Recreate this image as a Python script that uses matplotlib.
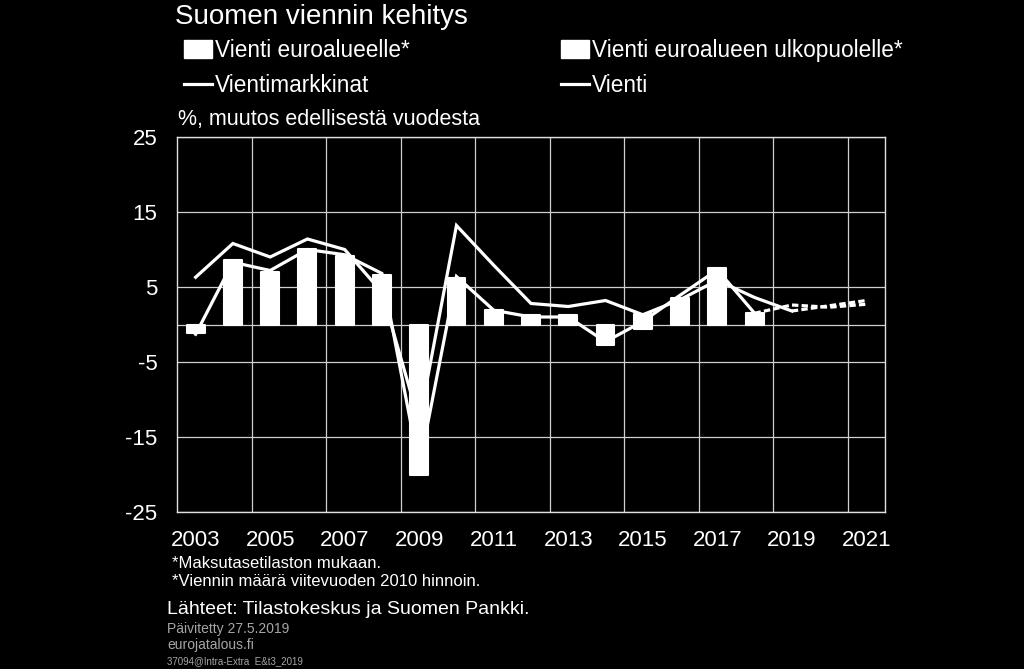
import numpy as np
import matplotlib
matplotlib.use("Agg")
import matplotlib.pyplot as plt
from matplotlib.patches import Patch
from matplotlib.lines import Line2D

plt.rcParams['font.family'] = ['Liberation Sans', 'DejaVu Sans']

years = list(range(2003, 2022))
tick_labels = [str(y) for y in years[::2]]

# Stacked bar contributions (% change), both series drawn white
vienti_euroalueelle = [-0.4, 3.4, 2.6, 4.0, 3.9, 2.5, -8.7, 2.4, 0.9, 0.3, 0.5, -0.9,
                       1.4, 1.6, 2.9, 0.6, np.nan, np.nan, np.nan]
vienti_ulkopuolelle = [-0.7, 5.2, 4.4, 6.1, 5.3, 4.1, -11.4, 3.8, 1.1, 1.0, 0.8, -1.8,
                       -0.6, 1.9, 4.7, 0.9, np.nan, np.nan, np.nan]

vientimarkkinat = [6.3, 10.8, 9.0, 11.4, 10.0, 4.3, -13.0, 13.2, 7.9, 2.8, 2.4, 3.2,
                   1.3, 3.3, 5.9, 3.6, 1.8, 2.5, 3.2]
vienti = [-1.3, 8.3, 7.2, 10.0, 9.3, 6.8, -19.0, 6.4, 1.9, 1.0, 1.0, -2.3,
          0.4, 3.9, 7.3, 1.5, 2.6, 2.3, 2.7]

vm_forecast_start = 2019
vi_forecast_start = 2018

bg = 'black'
fg = 'white'
grid_c = '#cfcfcf'

fig = plt.figure(figsize=(10.24, 6.69), dpi=100, facecolor=bg)
ax = fig.add_axes([177/1024, 1-512/669, (885-177)/1024, (512-137)/669], facecolor=bg)

x = np.arange(len(years))
eu = np.array(vienti_euroalueelle, dtype=float)
ne = np.array(vienti_ulkopuolelle, dtype=float)
bottom_ne = np.where(np.sign(eu) == np.sign(ne), eu, 0.0)

bw = 0.48
ax.bar(x, eu, width=bw, color=fg, edgecolor=fg, linewidth=1.5, joinstyle='round', zorder=3)
ax.bar(x, ne, bottom=bottom_ne, width=bw, color=fg, edgecolor=fg, linewidth=1.5,
       joinstyle='round', zorder=3)

yrs = np.array(years)
vm = np.array(vientimarkkinat)
vi = np.array(vienti)
lw = 2.3
m1 = yrs <= vm_forecast_start
m2 = yrs >= vm_forecast_start
ax.plot(x[m1], vm[m1], color=fg, lw=lw, zorder=2, solid_joinstyle='miter')
ax.plot(x[m2], vm[m2], color=fg, lw=lw, ls=(0, (2, 1)), zorder=2)
m1 = yrs <= vi_forecast_start
m2 = yrs >= vi_forecast_start
ax.plot(x[m1], vi[m1], color=fg, lw=lw, zorder=2, solid_joinstyle='miter')
ax.plot(x[m2], vi[m2], color=fg, lw=lw, ls=(0, (2, 1)), zorder=2)

ax.set_xlim(-0.5, len(years) - 0.5)
ax.set_ylim(-25, 25)
ax.set_yticks([-25, -15, -5, 5, 15, 25])
ax.set_yticklabels(['-25', '-15', '-5', '5', '15', '25'])
ax.set_xticks(x[::2])
ax.set_xticklabels(tick_labels)
ax.set_xticks(np.arange(1.5, len(years) - 1, 2), minor=True)
ax.grid(axis='y', which='major', color=grid_c, lw=0.9, zorder=1)
ax.grid(axis='x', which='minor', color=grid_c, lw=0.9, zorder=1)
ax.axhline(0, color=grid_c, lw=0.9, zorder=1)
ax.tick_params(axis='both', which='both', length=0, colors=fg, labelsize=16)
ax.tick_params(axis='y', pad=14)
ax.tick_params(axis='x', pad=13)
for s in ax.spines.values():
    s.set_color('#e0e0e0')
    s.set_linewidth(1.0)

handles = [Patch(facecolor=fg, edgecolor=fg),
           Line2D([], [], color=fg, lw=lw),
           Patch(facecolor=fg, edgecolor=fg),
           Line2D([], [], color=fg, lw=lw)]
labels = ['Vienti euroalueelle*', 'Vientimarkkinat',
          'Vienti euroalueen ulkopuolelle*', 'Vienti']
leg = fig.legend(handles, labels, ncol=2, loc='upper left',
                 bbox_to_anchor=(184/1024, 1-39/669), frameon=False,
                 fontsize=16.3, labelcolor=fg, handlelength=1.25, handleheight=0.8,
                 handletextpad=0.1, columnspacing=6.7, labelspacing=0.52,
                 borderpad=0, borderaxespad=0)

fig.text(175/1024, 1-17/669, 'Suomen viennin kehitys', color=fg, fontsize=20,
         va='center', ha='left')
fig.text(178/1024, 1-120/669, '%, muutos edellisestä vuodesta', color=fg,
         fontsize=15.5, va='center', ha='left')

fig.text(172/1024, 1-563/669, '*Maksutasetilaston mukaan.', color=fg, fontsize=12,
         va='center', ha='left')
fig.text(172/1024, 1-581/669, '*Viennin määrä viitevuoden 2010 hinnoin.', color=fg,
         fontsize=12, va='center', ha='left')
fig.text(167/1024, 1-609/669, 'Lähteet: Tilastokeskus ja Suomen Pankki.', color=fg,
         fontsize=14, va='center', ha='left')
gray = '#a6a6a6'
fig.text(167/1024, 1-629/669, 'Päivitetty 27.5.2019', color=gray, fontsize=10,
         va='center', ha='left')
fig.text(167/1024, 1-645/669, 'eurojatalous.fi', color=gray, fontsize=10,
         va='center', ha='left')
fig.text(167/1024, 1-661/669, '37094@Intra-Extra  E&t3_2019', color=gray, fontsize=7,
         va='center', ha='left')

fig.savefig('out.png', dpi=100, facecolor=bg)
